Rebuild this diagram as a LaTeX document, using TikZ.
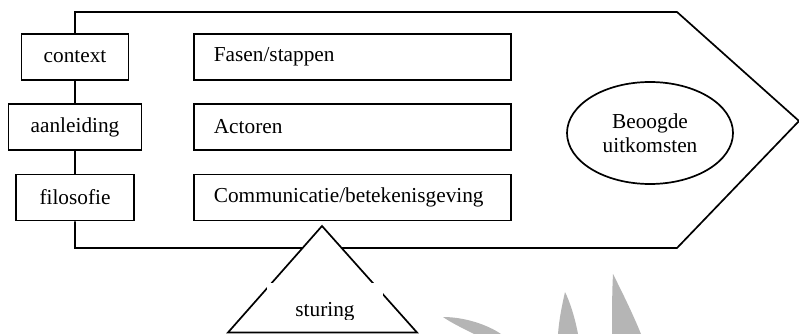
\documentclass[tikz,border=0pt]{standalone}
\usepackage{fontspec}
\setmainfont{Liberation Serif}
\usetikzlibrary{shapes.geometric}

\tikzset{
  outline/.style={draw=black, line width=1.7pt, line join=miter},
  sidebox/.style={outline, fill=white, rectangle, minimum height=46pt, inner sep=0pt},
  mainbox/.style={outline, fill=white, rectangle, anchor=west, minimum height=46pt,
                  text width=277pt, inner xsep=20pt, inner ysep=0pt, align=left},
  goal/.style={outline, fill=white, ellipse, minimum width=166pt, minimum height=102pt,
               inner sep=0pt, align=center},
  emblem/.style={fill=black!29, draw=none}
}

\begin{document}
\begin{tikzpicture}[x=1pt, y=-1pt, font=\fontsize{21.3}{24}\selectfont]
  \useasboundingbox (0,0) rectangle (799,334);

  % corners of the arrow-shaped frame
  \coordinate (tl)  at (75,12);
  \coordinate (tr)  at (677,12);
  \coordinate (tip) at (799,121);
  \coordinate (br)  at (677,248);
  \coordinate (bl)  at (75,248);

  % left column
  \node[sidebox, minimum width=107pt] (context)    at (75,57)    {context};
  \node[sidebox, minimum width=133pt] (aanleiding) at (75,127)   {aanleiding};
  \node[sidebox, minimum width=118pt] (filosofie)  at (75,197.5) {filosofie};

  % frame, closed on the left by the spine through the side boxes
  \draw[outline] (context.north) -- (tl) -- (tr) -- (tip) -- (br) -- (bl) -- (filosofie.south);
  \draw[outline] (context) -- (aanleiding) -- (filosofie);

  % middle column
  \node[mainbox] (fasen)   at (193,57)    {Fasen/stappen};
  \node[mainbox] (actoren) at (193,127)   {Actoren};
  \node[mainbox] (comm)    at (193,197.5) {Communicatie/betekenisgeving};

  % outcome
  \node[goal] (uitkomsten) at (650,133) {Beoogde\\uitkomsten};

  % steering triangle below the frame
  \coordinate (apex)  at (322,226);
  \coordinate (baseL) at (228,332.5);
  \coordinate (baseR) at (417,332.5);
  \draw[outline, fill=white] (apex) -- (baseL) -- (baseR) -- cycle;
  \begin{scope}
    \clip (267,283) rectangle (383,319);
    \node[fill=white, anchor=north, minimum width=116pt, inner xsep=0pt, inner ysep=8pt,
          text height=25pt, text depth=6pt] (sturing) at (325,283) {sturing};
  \end{scope}

  % grey emblem at the lower edge
  \fill[emblem] (443,317) .. controls (465,317) and (488,325) .. (501,334)
              -- (474,334) .. controls (462,328) and (450,322) .. cycle;
  \fill[emblem] (565,292) .. controls (562,305) and (559,320) .. (558,334)
              -- (578,334) .. controls (575,318) and (570,302) .. cycle;
  \fill[emblem] (613,274) .. controls (612,292) and (612,314) .. (612,334)
              -- (641,334) .. controls (632,312) and (622,292) .. cycle;
\end{tikzpicture}
\end{document}
